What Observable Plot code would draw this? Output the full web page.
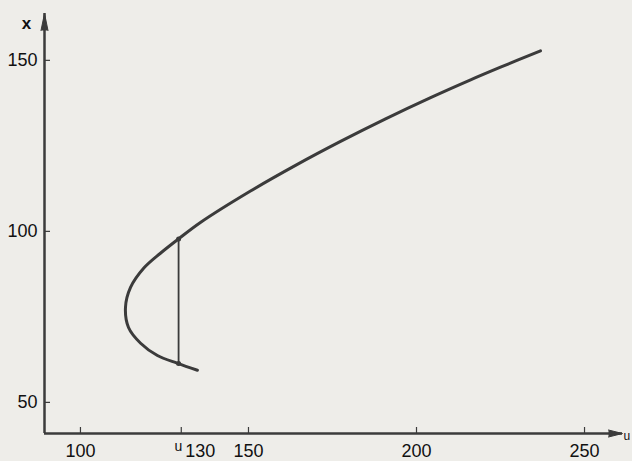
<!DOCTYPE html>
<html>
<head>
<meta charset="utf-8">
<script src="https://cdn.jsdelivr.net/npm/d3@7"></script>
<script src="https://cdn.jsdelivr.net/npm/@observablehq/plot@0.6"></script>
<style>
  html, body { margin: 0; padding: 0; background: #eeede9; }
  #chart { width: 632px; height: 461px; overflow: hidden; }
</style>
</head>
<body>
<div id="chart"></div>
<script>
// Curve points (u, x), ordered along the path from the lower end to the upper end
const curveU = [134.8, 128.9, 122.9, 117.9, 114.3, 113.4, 114.9, 118.8, 123.8, 129.2, 135.7, 150.6, 164.0, 177.4, 190.8, 204.2, 216.1, 225.0, 236.9];
const curveX = [59.4, 61.4, 63.7, 67.3, 71.9, 77.8, 83.6, 89.2, 93.6, 97.8, 102.6, 111.8, 119.3, 126.3, 132.9, 139.1, 144.3, 148.0, 152.8];

// Vertical jump segment at u = 130
const jumpU = [129.2, 129.2];
const jumpX = [61.4, 97.8];

// Axes
const uDomain = [89.3, 261.3];
const xDomain = [40.9, 163.7];
const uTicks = [100, 130, 150, 200, 250];
const uTickLabels = ["100", "130", "150", "200", "250"];
const xTicks = [50, 100, 150];
const xTickLabels = ["50", "100", "150"];

const curve = curveU.map((u, i) => ({u, x: curveX[i]}));
const jump = jumpU.map((u, i) => ({u, x: jumpX[i]}));

const ink = "#3b3b3b";
const font = "'Liberation Sans', Arial, sans-serif";

const plot = Plot.plot({
  width: 632,
  height: 461,
  marginLeft: 44,
  marginRight: 10,
  marginTop: 13,
  marginBottom: 28,
  style: {background: "#eeede9", fontFamily: font, color: ink, overflow: "visible"},
  x: {type: "linear", domain: uDomain, axis: null},
  y: {type: "linear", domain: xDomain, axis: null},
  marks: [
    // axis lines
    Plot.ruleY([xDomain[0]], {y: d => d, stroke: ink, strokeWidth: 2.5}),
    Plot.ruleX([uDomain[0]], {x: d => d, stroke: ink, strokeWidth: 2.5}),
    // arrowheads
    Plot.vector([0], {x: () => uDomain[1], y: () => xDomain[0], length: 14, rotate: 90, shape: "spike", anchor: "end", r: 3.5, fill: ink, stroke: ink, strokeWidth: 1}),
    Plot.vector([0], {x: () => uDomain[0], y: () => xDomain[1], length: 17, rotate: 0, shape: "spike", anchor: "end", r: 3.5, fill: ink, stroke: ink, strokeWidth: 1}),
    // tick marks
    Plot.ruleX(uTicks, {x: d => d, y1: () => xDomain[0], y2: () => xDomain[0], insetTop: -6, stroke: ink, strokeWidth: 1.2}),
    Plot.ruleY(xTicks, {y: d => d, x1: () => uDomain[0], x2: () => uDomain[0], insetRight: -6, stroke: ink, strokeWidth: 1.2}),
    // tick labels
    Plot.text(uTicks.filter(d => d !== 130), {x: d => d, y: () => xDomain[0], text: d => uTickLabels[uTicks.indexOf(d)], lineAnchor: "top", dy: 11, fontSize: 18, fill: "#111"}),
    Plot.text([130], {x: d => d, y: () => xDomain[0], text: d => uTickLabels[uTicks.indexOf(d)], lineAnchor: "top", textAnchor: "start", dy: 11, dx: 4, fontSize: 18, fill: "#111"}),
    Plot.text([130], {x: d => d, y: () => xDomain[0], text: () => "u", lineAnchor: "top", textAnchor: "end", dy: 8, dx: 1, fontSize: 14, fill: "#111"}),
    Plot.text(xTicks, {x: () => uDomain[0], y: d => d, text: d => xTickLabels[xTicks.indexOf(d)], textAnchor: "end", dx: -7, fontSize: 18, fill: "#111"}),
    // axis labels
    Plot.text(["x"], {x: () => uDomain[0], y: () => xDomain[1], text: d => d, dx: -18, dy: 10, fontSize: 17, fontWeight: "bold", fill: "#111"}),
    Plot.text(["u"], {x: () => uDomain[1], y: () => xDomain[0], text: d => d, textAnchor: "start", dx: 1, dy: 3, fontSize: 12, fill: "#111"}),
    // the curve
    Plot.line(curve, {x: "u", y: "x", curve: "catmull-rom", stroke: ink, strokeWidth: 3}),
    // vertical jump line
    Plot.line(jump, {x: "u", y: "x", stroke: ink, strokeWidth: 1.8}),
    Plot.dot(jump, {x: "u", y: "x", r: 2.5, fill: ink})
  ]
});
document.getElementById("chart").appendChild(plot);
</script>
</body>
</html>
